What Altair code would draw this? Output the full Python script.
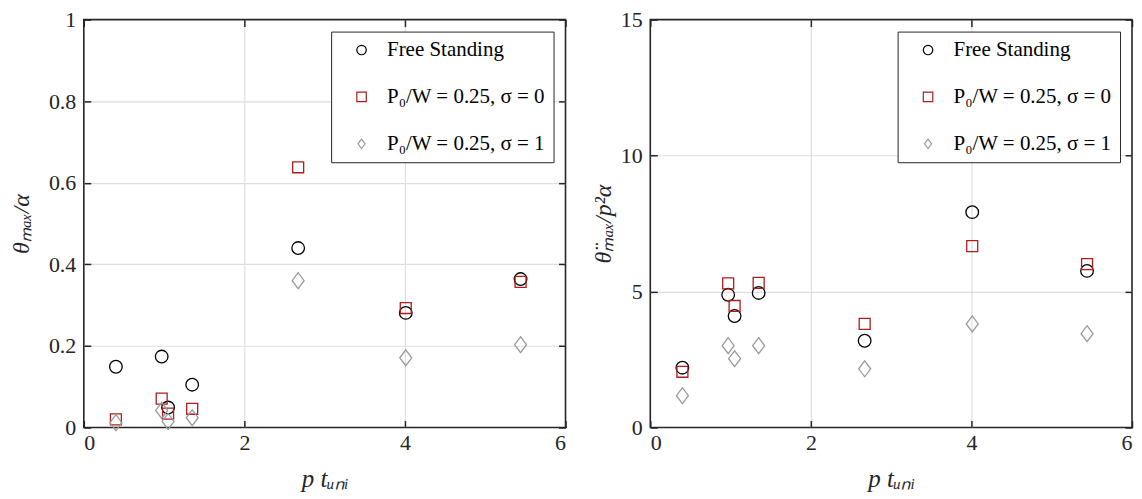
import altair as alt
import pandas as pd

series = ["Free Standing", "P₀/W = 0.25, σ = 0", "P₀/W = 0.25, σ = 1"]
x_vals = [0.40, 0.97, 1.05, 1.35, 2.67, 4.01, 5.44]

# left panel: theta_max / alpha
left_free = [0.149, 0.174, 0.049, 0.105, 0.440, 0.281, 0.364]
left_s0 = [0.020, 0.071, 0.034, 0.046, 0.638, 0.293, 0.357]
left_s1 = [0.012, 0.042, 0.015, 0.024, 0.360, 0.171, 0.203]

# right panel: theta_ddot_max / (p^2 alpha)
right_free = [2.20, 4.88, 4.10, 4.95, 3.19, 7.92, 5.76]
right_s0 = [2.05, 5.30, 4.47, 5.32, 3.81, 6.67, 6.01]
right_s1 = [1.17, 3.01, 2.53, 3.01, 2.16, 3.81, 3.45]

x_ticks = [0, 2, 4, 6]
x_grid = [2, 4]
left_ticks = [0, 0.2, 0.4, 0.6, 0.8, 1]
left_grid = [0.2, 0.4, 0.6, 0.8]
right_ticks = [0, 5, 10, 15]
right_grid = [5, 10]


def make_df(a, b, c):
    rows = []
    for s, ys in zip(series, [a, b, c]):
        for xv, yv in zip(x_vals, ys):
            rows.append({"series": s, "x": xv, "y": yv})
    return pd.DataFrame(rows)


FONT = "Liberation Serif"
DIAMOND = "M0,-1L0.75,0L0,1L-0.75,0Z"
TL = 7

size_enc = alt.SizeValue(
    121,
    condition=[
        {"test": "datum.series === '%s'" % series[0], "value": 160},
        {"test": "datum.series === '%s'" % series[2], "value": 256},
    ],
)


def panel(df, ydom, yticks, ygrid, ytitle, ylabel_fmt, ytitle_pad):
    base = alt.Chart(df)
    xs = alt.Scale(domain=[0, 6], nice=False, zero=False)
    ys = alt.Scale(domain=ydom, nice=False, zero=False)
    grid = base.mark_point(opacity=0).encode(
        x=alt.X("x:Q", scale=xs, axis=alt.Axis(orient="bottom", values=x_grid, grid=True, labels=False, ticks=False,
                                               domain=False, title=None, gridColor="#dedede", gridWidth=1.2)),
        y=alt.Y("y:Q", scale=ys, axis=alt.Axis(orient="left", values=ygrid, grid=True, labels=False, ticks=False,
                                               domain=False, title=None, gridColor="#dedede", gridWidth=1.2)),
    )
    pts = base.mark_point(filled=False, strokeWidth=1.3, opacity=1).encode(
        x=alt.X("x:Q", scale=xs, axis=alt.Axis(orient="bottom", values=x_ticks, grid=False, offset=-TL, tickSize=TL,
                                               tickWidth=1.5, tickColor="#262626", domain=False,
                                               labelPadding=5, labelFont=FONT, labelFontSize=22,
                                               labelColor="#262626", title="p tᵤₙᵢ", titleFont=FONT,
                                               titleFontSize=25, titleFontStyle="italic",
                                               titleFontWeight="normal", titleColor="#262626",
                                               titlePadding=13)),
        y=alt.Y("y:Q", scale=ys, axis=alt.Axis(orient="left", values=yticks, grid=False, offset=-TL, tickSize=TL,
                                               tickWidth=1.5, tickColor="#262626", domain=False,
                                               labelPadding=8, labelFont=FONT, labelFontSize=22,
                                               labelColor="#262626", format=ylabel_fmt,
                                               title=ytitle, titleFont=FONT, titleFontSize=24,
                                               titleFontStyle="italic", titleFontWeight="normal",
                                               titleColor="#262626", titlePadding=ytitle_pad)),
        color=alt.Color("series:N", scale=alt.Scale(domain=series, range=["#000000", "#b01c1c", "#9a9a9a"]),
                        legend=alt.Legend(orient="top-right", offset=12, title=None, strokeColor="#262626",
                                          fillColor="#ffffff", padding=8, rowPadding=25, labelLimit=400,
                                          labelFont=FONT, labelFontSize=21, labelColor="#000000",
                                          symbolSize=90, symbolStrokeWidth=1.2, symbolOffset=12,
                                          labelOffset=15, symbolType="circle")),
        shape=alt.Shape("series:N", scale=alt.Scale(domain=series, range=["circle", "square", DIAMOND])),
        size=size_enc,
    )
    tk = base.mark_point(opacity=0).encode(
        x=alt.X("x:Q", scale=xs, axis=alt.Axis(orient="top", values=x_ticks, offset=-TL, tickSize=TL,
                                               tickWidth=1.5, tickColor="#262626", labels=False,
                                               domain=False, grid=False, title=None)),
        y=alt.Y("y:Q", scale=ys, axis=alt.Axis(orient="right", values=yticks, offset=-TL, tickSize=TL,
                                               tickWidth=1.5, tickColor="#262626", labels=False,
                                               domain=False, grid=False, title=None)),
    )
    return alt.layer(grid, pts, tk).resolve_axis(x="independent", y="independent").properties(
        width=483, height=409)


left = panel(make_df(left_free, left_s0, left_s1), [0, 1], left_ticks, left_grid, "θₘₐₓ/α", "~g", 15)
right = panel(make_df(right_free, right_s0, right_s1), [0, 15], right_ticks, right_grid, "θ̈ₘₐₓ/p²α", "~g", 5)

chart = alt.hconcat(left, right, spacing=23).resolve_scale(
    color="independent", shape="independent"
).resolve_legend(color="independent", shape="independent").properties(
    padding={"left": 0, "top": -1, "right": 0, "bottom": 0}
).configure_view(stroke="#262626", strokeWidth=1.6)

chart.save("out.html", embed_options={"renderer": "svg", "actions": False})
